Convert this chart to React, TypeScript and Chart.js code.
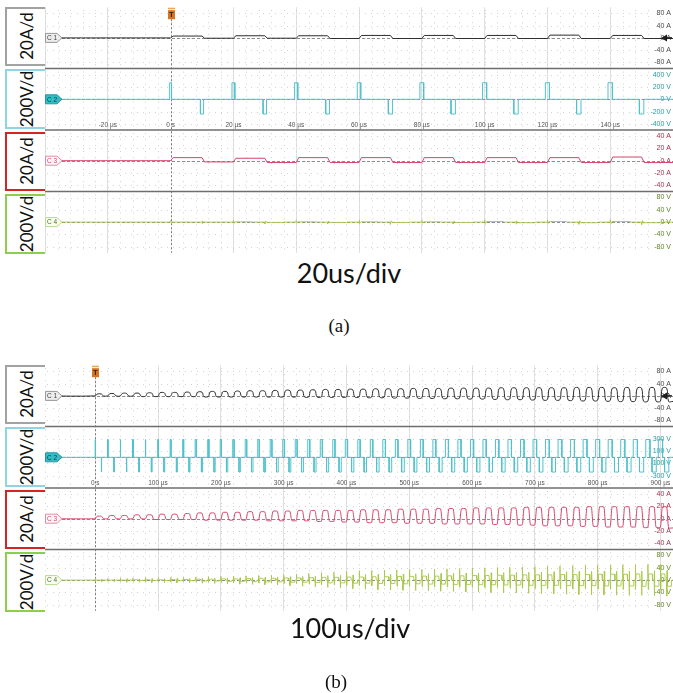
import React, { useEffect, useRef } from 'react';
import { Chart, registerables } from 'chart.js';

Chart.register(...registerables);

// ================= Panel (a): 20 us/div =================
const A_TIME_RANGE = [-40, 160];
const A_TIME_GRID = [-40, -20, 0, 20, 40, 60, 80, 100, 120, 140, 160];
const A_TIME_LABELS = [-20, 0, 20, 40, 60, 80, 100, 120, 140];
const A_MINOR_US = 4;
const A_PERIOD_US = 20;
const A_C1_HIGH = [6, 7, 7, 8, 8, 8, 9, 8];
const A_C1_LOW = [-1, -1, -2, -2, -2, -2, -2, -2];
const A_C2_POS_WIDTH = [0.6, 0.9, 1.0, 1.1, 1.2, 1.3, 1.3, 1.4];
const A_C2_NEG_WIDTH = [1.0, 1.1, 1.2, 1.3, 1.4, 1.4, 1.4, 1.4];
const A_C2_POS_V = 270;
const A_C2_NEG_V = -240;
const A_C3_HIGH = [5, 4, 5, 5, 5, 5, 5, 6];
const A_C3_LOW = [-2, -3, -3, -3, -3, -3, -3, -3];
const A_C4_SPIKE = [5, 6, 6, 7, 6, 7, 7, 8];
const A_C4_LEVEL = [0, 1, 1, 1, 1, 2, 2, 2];

// ================= Panel (b): 100 us/div =================
const B_TIME_RANGE = [-80, 920];
const B_TIME_GRID = [100, 200, 300, 400, 500, 600, 700, 800, 900];
const B_TIME_LABELS = [0, 100, 200, 300, 400, 500, 600, 700, 800, 900];
const B_MINOR_US = 20;
const B_PERIOD_US = 20;
const B_C1_HIGH = [6, 7, 8, 8, 9, 10, 10, 11, 12, 13, 13, 14, 15, 15, 16, 17, 17, 18, 19, 19, 20, 20, 21, 21, 21, 22, 22, 22, 23, 23, 23, 23, 24, 24, 24, 24, 24, 24, 25, 25, 25, 24, 25, 25, 25, 25];
const B_C1_LOW = [0, 0, 0, -1, -1, -1, -1, -1, -2, -2, -2, -2, -2, -2, -2, -2, -3, -3, -3, -3, -3, -4, -4, -5, -5, -6, -6, -7, -7, -8, -8, -9, -10, -10, -11, -12, -12, -13, -14, -14, -15, -16, -16, -17, -17, -18];
const B_C2_WIDTH = [0.6, 0.8, 1.0, 1.1, 1.2, 1.4, 1.5, 1.6, 1.8, 1.9, 2.1, 2.2, 2.4, 2.5, 2.7, 2.9, 3.0, 3.2, 3.3, 3.5, 3.6, 3.8, 3.9, 4.1, 4.2, 4.4, 4.5, 4.7, 4.8, 5.0, 5.1, 5.2, 5.4, 5.5, 5.6, 5.7, 5.9, 6.0, 6.1, 6.2, 6.3, 6.4, 6.5, 6.6, 6.7, 6.8];
const B_C2_POS_V = 290;
const B_C2_NEG_V = -240;
const B_C3_HIGH = [4, 5, 5, 6, 6, 7, 7, 8, 9, 9, 10, 10, 11, 11, 12, 12, 13, 13, 13, 13, 13, 14, 14, 14, 15, 15, 15, 16, 16, 16, 17, 17, 17, 17, 18, 18, 18, 18, 18, 19, 19, 19, 19, 19, 19, 19];
const B_C3_LOW = [0, 0, 0, 0, -1, -1, -1, -1, -2, -2, -2, -2, -2, -3, -3, -3, -3, -4, -4, -5, -5, -6, -6, -6, -7, -7, -7, -8, -8, -8, -8, -9, -9, -10, -10, -11, -11, -11, -12, -12, -13, -13, -13, -14, -14, -15];
const B_C4_SPIKE = [6, 6, 7, 7, 8, 8, 9, 9, 10, 11, 12, 13, 14, 15, 16, 18, 20, 22, 24, 26, 28, 30, 31, 32, 33, 34, 35, 36, 37, 38, 39, 40, 41, 42, 43, 44, 45, 46, 47, 48, 48, 49, 50, 50, 51, 52];
const B_C4_LEVEL = [0, 0, 0, 1, 1, 1, 2, 2, 3, 3, 4, 4, 5, 6, 6, 7, 7, 8, 9, 9, 10, 10, 11, 11, 12, 12, 13, 13, 14, 14, 15, 15, 16, 16, 17, 17, 17, 18, 18, 18, 19, 19, 19, 20, 20, 20];

// ================= Channel scales / labels =================
const C1_TICKS = [80, 40, 0, -40, -80];
const C2_TICKS_A = [400, 200, 0, -200, -400];
const C2_TICKS_B = [300, 100, -100, -300];
const C3_TICKS = [40, 20, 0, -20, -40];
const C4_TICKS = [80, 40, 0, -40, -80];
const C1_LIMIT = 100;
const C2_LIMIT = 500;
const C3_LIMIT = 50;
const C4_LIMIT = 100;
const BOX_LABELS = ['20A/d', '200V/d', '20A/d', '200V/d'];
const CAPTION_A = '20us/div';
const CAPTION_B = '100us/div';

type Pt = { x: number; y: number };

function currentWave(high: number[], low: number[], period: number, ramp: number, tMin: number): Pt[] {
  const pts: Pt[] = [{ x: tMin, y: 0 }, { x: 0, y: 0 }];
  const half = period / 2;
  high.forEach((h, k) => {
    const t0 = k * period;
    pts.push({ x: t0 + ramp, y: h }, { x: t0 + half, y: h }, { x: t0 + half + ramp, y: low[k] }, { x: t0 + period, y: low[k] });
  });
  return pts;
}

function bridgeVoltage(posW: number[], negW: number[], posV: number, negV: number, period: number, tMin: number, tMax: number): Pt[] {
  const pts: Pt[] = [{ x: tMin, y: 0 }];
  posW.forEach((wp, k) => {
    const t0 = k * period;
    const t1 = t0 + period / 2;
    const wn = negW[k];
    pts.push({ x: t0 - wp / 2, y: 0 }, { x: t0 - wp / 2, y: posV }, { x: t0 + wp / 2, y: posV }, { x: t0 + wp / 2, y: 0 });
    pts.push({ x: t1 - wn / 2, y: 0 }, { x: t1 - wn / 2, y: negV }, { x: t1 + wn / 2, y: negV }, { x: t1 + wn / 2, y: 0 });
  });
  pts.push({ x: tMax, y: 0 });
  return pts;
}

function spikeWave(spike: number[], level: number[], period: number, hold: number, dx: number, tMin: number, tMax: number): Pt[] {
  const pts: Pt[] = [{ x: tMin, y: 0 }];
  spike.forEach((s, k) => {
    [1, -1].forEach((sign, h) => {
      const t = k * period + (h * period) / 2;
      const L = sign * level[k];
      pts.push(
        { x: t, y: 0 },
        { x: t, y: sign * s },
        { x: t + dx, y: -sign * s * 0.6 },
        { x: t + 2 * dx, y: L },
        { x: t + hold, y: L },
        { x: t + hold + dx, y: 0 }
      );
    });
  });
  pts.push({ x: tMax, y: 0 });
  return pts;
}

type PanelDef = {
  range: number[];
  grid: number[];
  labels: number[];
  minor: number;
  c2Ticks: number[];
  c1: Pt[];
  c2: Pt[];
  c3: Pt[];
  c4: Pt[];
  c1Tension: number;
  c3Tension: number;
};

const PANEL_A: PanelDef = {
  range: A_TIME_RANGE,
  grid: A_TIME_GRID,
  labels: A_TIME_LABELS,
  minor: A_MINOR_US,
  c2Ticks: C2_TICKS_A,
  c1: currentWave(A_C1_HIGH, A_C1_LOW, A_PERIOD_US, 0.8, A_TIME_RANGE[0]),
  c2: bridgeVoltage(A_C2_POS_WIDTH, A_C2_NEG_WIDTH, A_C2_POS_V, A_C2_NEG_V, A_PERIOD_US, A_TIME_RANGE[0], A_TIME_RANGE[1]),
  c3: currentWave(A_C3_HIGH, A_C3_LOW, A_PERIOD_US, 0.8, A_TIME_RANGE[0]),
  c4: spikeWave(A_C4_SPIKE, A_C4_LEVEL, A_PERIOD_US, 6, 0.3, A_TIME_RANGE[0], A_TIME_RANGE[1]),
  c1Tension: 0,
  c3Tension: 0,
};

const PANEL_B: PanelDef = {
  range: B_TIME_RANGE,
  grid: B_TIME_GRID,
  labels: B_TIME_LABELS,
  minor: B_MINOR_US,
  c2Ticks: C2_TICKS_B,
  c1: currentWave(B_C1_HIGH, B_C1_LOW, B_PERIOD_US, 3, B_TIME_RANGE[0]),
  c2: bridgeVoltage(B_C2_WIDTH, B_C2_WIDTH, B_C2_POS_V, B_C2_NEG_V, B_PERIOD_US, B_TIME_RANGE[0], B_TIME_RANGE[1]),
  c3: currentWave(B_C3_HIGH, B_C3_LOW, B_PERIOD_US, 3, B_TIME_RANGE[0]),
  c4: spikeWave(B_C4_SPIKE, B_C4_LEVEL, B_PERIOD_US, 7, 0.6, B_TIME_RANGE[0], B_TIME_RANGE[1]),
  c1Tension: 0.35,
  c3Tension: 0.15,
};

const ROWS = ['y1', 'y2', 'y3', 'y4'];
const TRACE_COLORS = ['#2e2e2e', '#4fc3cb', '#d6456d', '#a9c84a'];
const LABEL_COLORS = ['#4a4a4a', '#2a9a9e', '#a3304c', '#5f8424'];
const TAGS = [
  { text: 'C 1', fill: '#ececec', stroke: '#9a9a9a', color: '#444' },
  { text: 'C 2', fill: '#36bcc4', stroke: '#1f9aa2', color: '#0c3a40' },
  { text: 'C 3', fill: '#fff6f8', stroke: '#e68aa2', color: '#c0506e' },
  { text: 'C 4', fill: '#f9fdf2', stroke: '#b7dc8a', color: '#556b2f' },
];
const BOX_COLORS = ['#a2a2a2', '#92d3e3', '#d42424', '#8ccf4c'];

const ROW_H = 62.5;
const PLOT_LEFT = 45;
const CANVAS_W = 628;
const CANVAS_H = 250;
const FONT = 'Liberation Sans';

function rowScale(ticks: number[], lim: number, unit: string, color: string) {
  return {
    type: 'linear',
    position: 'right',
    stack: 'scope',
    stackWeight: 1,
    min: -lim,
    max: lim,
    grid: { display: false },
    border: { display: false },
    afterBuildTicks: (s: any) => {
      s.ticks = ticks.map((v) => ({ value: v }));
    },
    afterFit: (s: any) => {
      s.width = 0;
    },
    ticks: {
      mirror: true,
      padding: -2,
      autoSkip: false,
      color,
      font: { family: FONT, size: 7 },
      callback: (v: number) => `${v} ${unit}`,
    },
  };
}

function makePlugin(p: PanelDef) {
  return {
    id: 'scopeDecor',
    beforeDatasetsDraw(chart: any) {
      const { ctx, chartArea } = chart;
      const xs = chart.scales.x;
      ctx.save();
      // dotted minor grid
      ctx.lineWidth = 1;
      ctx.strokeStyle = '#d2d2d2';
      ctx.setLineDash([1, 5]);
      ROWS.forEach((id) => {
        const ys = chart.scales[id];
        for (let t = xs.min; t <= xs.max + 1e-6; t += p.minor) {
          const px = Math.round(xs.getPixelForValue(t)) + 0.5;
          ctx.beginPath();
          ctx.moveTo(px, ys.top + 3);
          ctx.lineTo(px, ys.bottom - 2);
          ctx.stroke();
        }
        ys.ticks.forEach((tk: any) => {
          const py = Math.round(ys.getPixelForValue(tk.value)) + 0.5;
          ctx.beginPath();
          ctx.moveTo(chartArea.left + 2, py);
          ctx.lineTo(chartArea.right - 22, py);
          ctx.stroke();
        });
      });
      // zero reference lines
      ctx.strokeStyle = '#8c8c8c';
      ctx.setLineDash([3, 2]);
      ROWS.forEach((id) => {
        const ys = chart.scales[id];
        const py = Math.round(ys.getPixelForValue(0)) + 0.5;
        ctx.beginPath();
        ctx.moveTo(chartArea.left + 17, py);
        ctx.lineTo(chartArea.right, py);
        ctx.stroke();
      });
      // trigger line
      const x0 = Math.round(xs.getPixelForValue(0)) + 0.5;
      ctx.strokeStyle = '#7a7a7a';
      ctx.setLineDash([2, 2]);
      ctx.beginPath();
      ctx.moveTo(x0, chartArea.top + 12);
      ctx.lineTo(x0, chartArea.bottom);
      ctx.stroke();
      ctx.restore();
    },
    afterDatasetsDraw(chart: any) {
      const { ctx, chartArea } = chart;
      const xs = chart.scales.x;
      ctx.save();
      // row separators
      ctx.strokeStyle = '#6e6e6e';
      ctx.lineWidth = 1.5;
      for (let i = 0; i < 3; i++) {
        const ys = chart.scales[ROWS[i]];
        ctx.beginPath();
        ctx.moveTo(chartArea.left, ys.bottom);
        ctx.lineTo(chart.width, ys.bottom);
        ctx.stroke();
      }
      // channel tags
      ROWS.forEach((id, i) => {
        const ys = chart.scales[id];
        const y = ys.getPixelForValue(0);
        const x = chartArea.left;
        const tg = TAGS[i];
        ctx.beginPath();
        ctx.moveTo(x + 0.5, y - 4.5);
        ctx.lineTo(x + 12, y - 4.5);
        ctx.lineTo(x + 17, y);
        ctx.lineTo(x + 12, y + 4.5);
        ctx.lineTo(x + 0.5, y + 4.5);
        ctx.closePath();
        ctx.fillStyle = tg.fill;
        ctx.fill();
        ctx.lineWidth = 1;
        ctx.strokeStyle = tg.stroke;
        ctx.stroke();
        ctx.fillStyle = tg.color;
        ctx.font = `6.5px ${FONT}`;
        ctx.textAlign = 'center';
        ctx.textBaseline = 'middle';
        ctx.fillText(tg.text, x + 7, y + 0.5);
      });
      // time labels
      const y2 = chart.scales.y2;
      ctx.fillStyle = '#555';
      ctx.font = `6.5px ${FONT}`;
      ctx.textAlign = 'center';
      ctx.textBaseline = 'middle';
      p.labels.forEach((v) => {
        const px = xs.getPixelForValue(v);
        ctx.fillText(v === 0 ? '0 s' : `${v} \u00b5s`, px, y2.bottom - 4.5);
      });
      // trigger marker
      const x0 = Math.round(xs.getPixelForValue(0));
      const top = chartArea.top;
      ctx.fillStyle = '#f3a54a';
      ctx.fillRect(x0 - 3, top + 0.5, 7, 1.5);
      ctx.fillStyle = '#d9731c';
      ctx.fillRect(x0 - 3, top + 3, 7, 9);
      ctx.fillStyle = '#1e1e1e';
      ctx.font = `bold 7px ${FONT}`;
      ctx.fillText('T', x0 + 0.5, top + 7.8);
      // C1 offset arrow on the right
      const y1 = chart.scales.y1;
      const ya = y1.getPixelForValue(0);
      const xa = chart.width - 12;
      ctx.fillStyle = '#1e1e1e';
      ctx.beginPath();
      ctx.moveTo(xa, ya);
      ctx.lineTo(xa + 6, ya - 3.5);
      ctx.lineTo(xa + 6, ya + 3.5);
      ctx.closePath();
      ctx.fill();
      ctx.fillRect(xa + 5, ya - 0.75, 6, 1.5);
      ctx.restore();
    },
  };
}

function buildConfig(p: PanelDef): any {
  const ds = (data: Pt[], i: number, tension = 0, width = 1) => ({
    data,
    yAxisID: ROWS[i],
    borderColor: TRACE_COLORS[i],
    borderWidth: width,
    pointRadius: 0,
    tension,
    fill: false,
  });
  return {
    type: 'line',
    data: {
      datasets: [ds(p.c1, 0, p.c1Tension), ds(p.c2, 1), ds(p.c3, 2, p.c3Tension), ds(p.c4, 3, 0, 0.9)],
    },
    options: {
      animation: false,
      responsive: false,
      maintainAspectRatio: false,
      devicePixelRatio: 1,
      events: [],
      layout: { padding: 0 },
      plugins: { legend: { display: false }, tooltip: { enabled: false } },
      scales: {
        x: {
          type: 'linear',
          min: p.range[0],
          max: p.range[1],
          afterBuildTicks: (s: any) => {
            s.ticks = p.grid.map((v) => ({ value: v }));
          },
          grid: {
            drawTicks: false,
            color: (c: any) => (c.tick && c.tick.value === 0 ? 'rgba(0,0,0,0)' : '#e0e0e0'),
          },
          border: { display: false },
          ticks: { display: false },
        },
        y1: rowScale(C1_TICKS, C1_LIMIT, 'A', LABEL_COLORS[0]),
        y2: rowScale(p.c2Ticks, C2_LIMIT, 'V', LABEL_COLORS[1]),
        y3: rowScale(C3_TICKS, C3_LIMIT, 'A', LABEL_COLORS[2]),
        y4: rowScale(C4_TICKS, C4_LIMIT, 'V', LABEL_COLORS[3]),
      },
    },
    plugins: [makePlugin(p)],
  };
}

function ScopePanel({ panel, top }: { panel: PanelDef; top: number }) {
  const ref = useRef<HTMLCanvasElement | null>(null);
  useEffect(() => {
    if (!ref.current) return;
    const chart = new Chart(ref.current, buildConfig(panel));
    return () => chart.destroy();
  }, [panel]);
  return (
    <>
      <canvas
        ref={ref}
        width={CANVAS_W}
        height={CANVAS_H}
        style={{ position: 'absolute', left: PLOT_LEFT, top, width: CANVAS_W, height: CANVAS_H }}
      />
      {BOX_LABELS.map((text, i) => (
        <div
          key={i}
          style={{
            position: 'absolute',
            left: 5,
            top: top + i * ROW_H + 1.5,
            width: 40,
            height: ROW_H - 3,
            boxSizing: 'border-box',
            borderStyle: 'solid',
            borderColor: BOX_COLORS[i],
            borderWidth: '2px 0 2px 2px',
          }}
        >
          <div
            style={{
              position: 'absolute',
              left: '50%',
              top: '50%',
              transform: 'translate(-50%, -50%) rotate(-90deg)',
              whiteSpace: 'nowrap',
              fontFamily: 'Lato, sans-serif',
              fontSize: 17,
              lineHeight: 1,
              color: '#111',
            }}
          >
            {text}
          </div>
        </div>
      ))}
    </>
  );
}

function Caption({ text, x, y, size, family }: { text: string; x: number; y: number; size: number; family: string }) {
  return (
    <div
      style={{
        position: 'absolute',
        left: x,
        top: y,
        transform: 'translate(-50%, -50%)',
        whiteSpace: 'nowrap',
        fontFamily: family,
        fontSize: size,
        lineHeight: 1,
        color: '#111',
      }}
    >
      {text}
    </div>
  );
}

export default function App() {
  return (
    <div style={{ position: 'absolute', left: 0, top: 0, width: 673, height: 693, overflow: 'hidden', background: '#fff' }}>
      <ScopePanel panel={PANEL_A} top={5} />
      <Caption text={CAPTION_A} x={349} y={272} size={27} family="Lato, sans-serif" />
      <Caption text="(a)" x={339} y={325} size={19} family="'Liberation Serif', serif" />
      <ScopePanel panel={PANEL_B} top={363} />
      <Caption text={CAPTION_B} x={350} y={627} size={27} family="Lato, sans-serif" />
      <Caption text="(b)" x={336} y={681} size={19} family="'Liberation Serif', serif" />
    </div>
  );
}
